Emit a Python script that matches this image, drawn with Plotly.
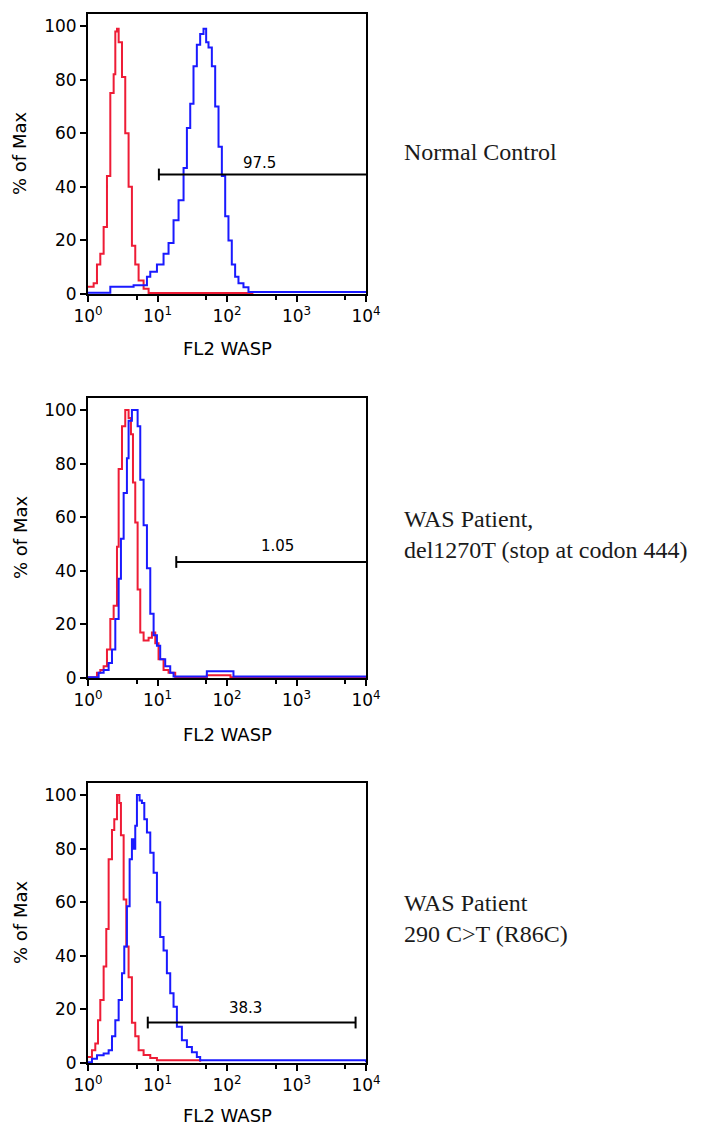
import plotly.graph_objects as go

# ---- data (log10 channel positions, % of Max) ----
p1_red_log = [0.0, 0.081, 0.129, 0.177, 0.225, 0.273, 0.321, 0.369, 0.393, 0.417, 0.441, 0.489, 0.536, 0.584, 0.632, 0.68, 0.728, 0.8, 0.872, 2.38]
p1_red_pct = [2.7, 4, 11, 15, 25, 44, 75, 82, 98, 99, 94, 81, 60, 40, 18, 11, 5, 2, 0.4, 0.4]
p1_blue_log = [0.0, 0.321, 0.656, 0.848, 0.896, 0.992, 1.087, 1.159, 1.231, 1.303, 1.375, 1.423, 1.471, 1.518, 1.566, 1.614, 1.662, 1.70, 1.734, 1.782, 1.83, 1.878, 1.926, 1.974, 2.021, 2.069, 2.117, 2.165, 2.237, 2.309, 2.405, 4.0]
p1_blue_pct = [0.5, 2.7, 3.3, 6.4, 8.3, 11, 15, 19, 27.5, 35, 47, 62, 71, 85, 93, 97, 99, 94, 92, 85, 70, 55, 44, 29, 20, 11, 6.4, 4, 2.5, 0.7, 0.7, 0.7]

p2_red_log = [0.0, 0.129, 0.177, 0.225, 0.273, 0.321, 0.369, 0.417, 0.441, 0.489, 0.536, 0.584, 0.618, 0.647, 0.68, 0.714, 0.752, 0.80, 0.872, 0.92, 0.968, 1.015, 1.087, 1.159, 1.255, 1.71, 2.05, 4.0]
p2_red_pct = [0.3, 2, 3, 4.4, 10.6, 22, 27, 49, 78, 94, 100, 97, 91, 73, 58, 33, 17, 14, 15, 17, 13, 7, 3, 2, 0.3, 1.0, 0.3, 0.3]
p2_blue_log = [0.0, 0.153, 0.225, 0.297, 0.345, 0.393, 0.441, 0.474, 0.513, 0.56, 0.584, 0.632, 0.68, 0.714, 0.752, 0.80, 0.848, 0.896, 0.944, 0.992, 1.039, 1.111, 1.183, 1.231, 1.71, 2.093, 4.0]
p2_blue_pct = [0.3, 2, 3, 5.6, 10.6, 22, 37, 52, 69, 82, 96, 100, 100, 94, 74, 57, 41, 24, 16, 12, 7, 4.4, 2, 0.6, 2.5, 0.6, 0.6]

p3_red_log = [0.0, 0.057, 0.105, 0.144, 0.177, 0.225, 0.263, 0.297, 0.345, 0.378, 0.417, 0.45, 0.474, 0.513, 0.551, 0.584, 0.632, 0.68, 0.728, 0.80, 0.896, 0.992, 1.614]
p3_red_pct = [2.2, 4.75, 7.25, 16, 23.5, 36, 50, 76, 87, 91, 100, 97, 85, 61, 43.5, 32, 15, 10, 4.75, 3, 1.9, 1, 0.5]
p3_blue_log = [0.0, 0.057, 0.129, 0.225, 0.297, 0.345, 0.393, 0.441, 0.489, 0.522, 0.56, 0.599, 0.632, 0.656, 0.68, 0.704, 0.742, 0.776, 0.81, 0.848, 0.896, 0.944, 0.992, 1.039, 1.087, 1.135, 1.183, 1.231, 1.279, 1.351, 1.423, 1.495, 1.566, 1.614, 4.0]
p3_blue_pct = [0.3, 1.6, 2.9, 3.5, 4.75, 10, 16, 23.5, 33.5, 43.5, 58.5, 76, 83.5, 80, 88.5, 100, 98, 97, 91, 86, 78.5, 71, 60, 47, 42, 33.5, 26, 21, 13.5, 8.5, 6, 4, 2.25, 1, 0.3]

gate_lo_log = [1.02, 1.27, 0.86]
gate_hi_log = [4.0, 4.0, 3.85]
gate_y = [44.6, 43.3, 15.1]
gate_labels = ["97.5", "1.05", "38.3"]
gate_label_log = [2.47, 2.72, 2.26]
gate_label_y = [49.0, 49.4, 20.4]
gate_right_tick = [False, False, True]

panel_texts = ["Normal Control",
               "WAS Patient,<br>del1270T (stop at codon 444)",
               "WAS Patient<br>290 C&gt;T (R86C)"]

x_tickvals_log = [0, 1, 2, 3, 4]
x_minor_vals = [5, 50, 500, 5000]
y_tickvals = [0, 20, 40, 60, 80, 100]

RED = "#ee1c36"
BLUE = "#1a1aff"

W, H = 711, 1129
# panel pixel geometry: (left, right, top, bottom)
panels_px = [(88, 366, 14, 294), (88, 366, 398, 678), (88, 366, 783, 1063)]
xtitle_y = [348, 734, 1115]
text_y = [152, 534, 918]

series = [
    (p1_red_log, p1_red_pct, p1_blue_log, p1_blue_pct),
    (p2_red_log, p2_red_pct, p2_blue_log, p2_blue_pct),
    (p3_red_log, p3_red_pct, p3_blue_log, p3_blue_pct),
]

fig = go.Figure()
annotations = []
SANS = "DejaVu Sans"

for i, (rl, rp, bl, bp) in enumerate(series):
    n = "" if i == 0 else str(i + 1)
    xa, ya = "x" + n, "y" + n
    fig.add_trace(go.Scatter(x=[10 ** v for v in rl], y=rp, mode="lines",
                             line=dict(color=RED, width=2, shape="hv"),
                             xaxis=xa, yaxis=ya, showlegend=False))
    fig.add_trace(go.Scatter(x=[10 ** v for v in bl], y=bp, mode="lines",
                             line=dict(color=BLUE, width=2, shape="hv"),
                             xaxis=xa, yaxis=ya, showlegend=False))
    # gate bar
    lo, hi, gy = 10 ** gate_lo_log[i], 10 ** gate_hi_log[i], gate_y[i]
    fig.add_trace(go.Scatter(x=[lo, hi], y=[gy, gy], mode="lines",
                             line=dict(color="black", width=2),
                             xaxis=xa, yaxis=ya, showlegend=False))
    fig.add_trace(go.Scatter(x=[lo, lo], y=[gy - 2.2, gy + 2.2], mode="lines",
                             line=dict(color="black", width=2),
                             xaxis=xa, yaxis=ya, showlegend=False))
    if gate_right_tick[i]:
        fig.add_trace(go.Scatter(x=[hi, hi], y=[gy - 2.2, gy + 2.2], mode="lines",
                                 line=dict(color="black", width=2),
                                 xaxis=xa, yaxis=ya, showlegend=False))
    annotations.append(dict(x=gate_label_log[i], y=gate_label_y[i], xref=xa, yref=ya,
                            text=gate_labels[i], showarrow=False,
                            font=dict(family=SANS, size=15, color="black"),
                            xanchor="center", yanchor="middle"))

    l, r, t, b = panels_px[i]
    xdom = [l / W, r / W]
    ydom = [1 - b / H, 1 - t / H]
    fig.update_layout(**{
        "xaxis" + n: dict(domain=xdom, type="log", range=[0, 4], anchor=ya, automargin=False,
                          tickvals=[10 ** v for v in x_tickvals_log],
                          ticktext=["10<sup>%d</sup>" % v for v in x_tickvals_log],
                          ticks="outside", ticklen=6, tickwidth=1.5, tickcolor="black",
                          minor=dict(ticks="outside", ticklen=4, tickwidth=1.5, tickcolor="black",
                                     tickvals=x_minor_vals),
                          showline=True, linecolor="black", linewidth=2, mirror=True,
                          showgrid=False, zeroline=False,
                          tickfont=dict(family=SANS, size=17, color="black")),
        "yaxis" + n: dict(domain=ydom, range=[0, 104.5], anchor=xa, automargin=False,
                          tickvals=y_tickvals,
                          ticks="outside", ticklen=6, tickwidth=1.5, tickcolor="black",
                          showline=True, linecolor="black", linewidth=2, mirror=True,
                          showgrid=False, zeroline=False,
                          tickfont=dict(family=SANS, size=17, color="black")),
    })
    # axis titles
    annotations.append(dict(x=20 / W, y=1 - ((t + b) / 2) / H, xref="paper", yref="paper",
                            text="% of Max", textangle=-90, showarrow=False,
                            font=dict(family=SANS, size=18, color="black"),
                            xanchor="center", yanchor="middle"))
    annotations.append(dict(x=((l + r) / 2) / W, y=1 - xtitle_y[i] / H, xref="paper", yref="paper",
                            text="FL2 WASP", showarrow=False,
                            font=dict(family=SANS, size=18, color="black"),
                            xanchor="center", yanchor="middle"))
    annotations.append(dict(x=402 / W, y=1 - text_y[i] / H, xref="paper", yref="paper",
                            text=panel_texts[i], showarrow=False, align="left",
                            font=dict(family="Liberation Serif", size=24, color="#1a1a1a"),
                            xanchor="left", yanchor="middle"))

fig.update_layout(width=W, height=H, margin=dict(l=0, r=0, t=0, b=0, pad=0, autoexpand=False),
                  paper_bgcolor="white", plot_bgcolor="white",
                  annotations=annotations, showlegend=False)

fig.write_html("out.html", config={"displayModeBar": False},
               post_script="document.body.style.margin='0';")
